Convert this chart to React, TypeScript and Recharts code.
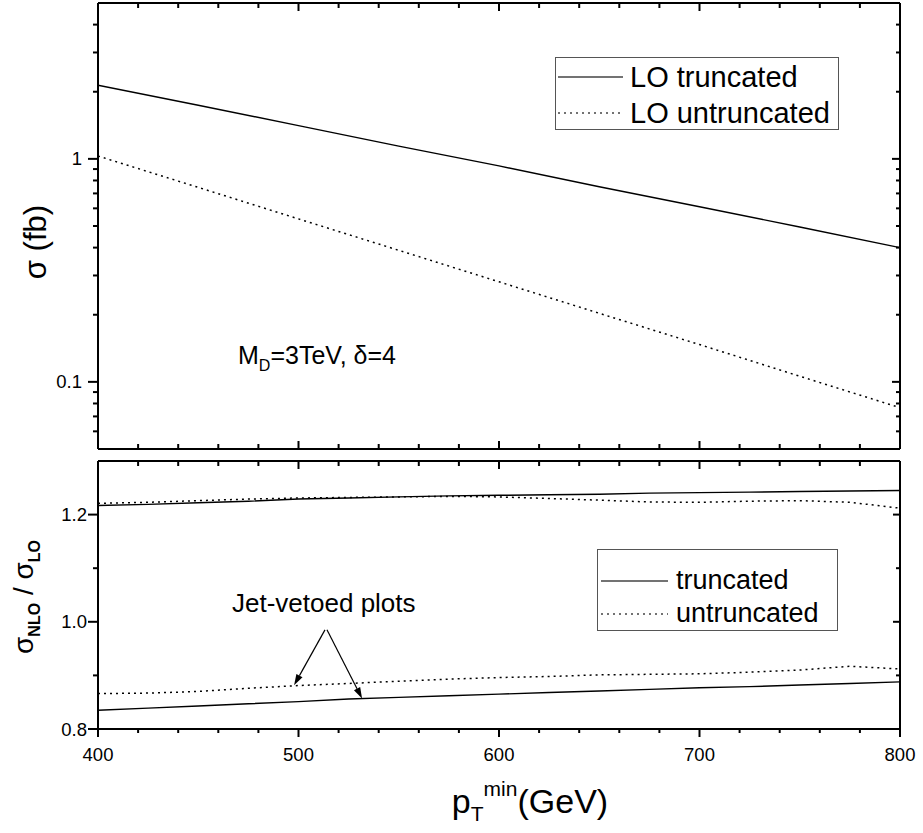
import { LineChart, Line, XAxis, YAxis, Legend, ReferenceLine, Customized } from "recharts";

const FONT = '"Liberation Sans", Arial, Helvetica, sans-serif';

// upper panel: LO cross sections (fb)
const ptTop = [400, 450, 500, 550, 600, 650, 700, 750, 800];
const loTrunc = [2.14, 1.74, 1.41, 1.14, 0.93, 0.75, 0.61, 0.495, 0.4];
const loUntrunc = [1.03, 0.745, 0.538, 0.389, 0.281, 0.203, 0.147, 0.106, 0.0766];

// lower panel: NLO / LO ratios
const ptBot = [400, 425, 450, 475, 500, 525, 550, 575, 600, 625, 650, 675, 700, 725, 750, 775, 800];
const kTrunc = [1.217, 1.219, 1.222, 1.225, 1.229, 1.231, 1.233, 1.235, 1.236, 1.237, 1.238, 1.24, 1.241, 1.242, 1.243, 1.244, 1.245];
const kUntrunc = [1.221, 1.223, 1.226, 1.229, 1.231, 1.232, 1.233, 1.234, 1.233, 1.23, 1.227, 1.2235, 1.223, 1.225, 1.226, 1.223, 1.212];
const kVetoTrunc = [0.835, 0.839, 0.843, 0.847, 0.851, 0.856, 0.859, 0.862, 0.865, 0.868, 0.871, 0.874, 0.877, 0.879, 0.882, 0.885, 0.888];
const kVetoUntrunc = [0.866, 0.867, 0.87, 0.876, 0.881, 0.885, 0.889, 0.893, 0.896, 0.898, 0.901, 0.902, 0.903, 0.906, 0.91, 0.917, 0.912];

// ticks
const xTicks = [400, 420, 440, 460, 480, 500, 520, 540, 560, 580, 600, 620, 640, 660, 680, 700, 720, 740, 760, 780, 800];
const xMajor = [400, 500, 600, 700, 800];
const sigmaTicks = [0.06, 0.07, 0.08, 0.09, 0.1, 0.2, 0.3, 0.4, 0.5, 0.6, 0.7, 0.8, 0.9, 1, 2, 3, 4];
const sigmaMajor = [0.1, 1];
const ratioTicks = [0.8, 0.9, 1.0, 1.1, 1.2];
const ratioMajor = [0.8, 1.0, 1.2];

const topData = ptTop.map((x, i) => ({ x, trunc: loTrunc[i], untrunc: loUntrunc[i] }));
const botData = ptBot.map((x, i) => ({
  x,
  trunc: kTrunc[i],
  untrunc: kUntrunc[i],
  vetoTrunc: kVetoTrunc[i],
  vetoUntrunc: kVetoUntrunc[i],
}));

const axisLine = { stroke: "#000", strokeWidth: 2 };
const DOTS = "2 4";

const isIn = (v: number, arr: number[]) => arr.some((a) => Math.abs(a - v) < 1e-9);

// side: where the axis sits, out: ticks point away from the plot
const makeTick =
  (side: "left" | "right" | "top" | "bottom", majors: number[], out: boolean, big: number, small: number, fmt?: (v: number) => string | null, pad = 4) =>
  (props: any) => {
    const { x, y, payload } = props;
    const v = payload.value;
    const len = isIn(v, majors) ? big : small;
    const s = out ? 1 : -1;
    const label = fmt ? fmt(v) : null;
    let x2 = x, y2 = y;
    if (side === "left") x2 = x - s * len;
    if (side === "right") x2 = x + s * len;
    if (side === "top") y2 = y - s * len;
    if (side === "bottom") y2 = y + s * len;
    return (
      <g>
        <line x1={x} y1={y} x2={x2} y2={y2} stroke="#000" strokeWidth={2} />
        {label && side === "left" && (
          <text x={x - big - pad} y={y + 6.5} textAnchor="end" fontSize={18.5} fontFamily={FONT} fill="#000">
            {label}
          </text>
        )}
        {label && side === "bottom" && (
          <text x={x} y={y + 32} textAnchor="middle" fontSize={18.5} fontFamily={FONT} fill="#000">
            {label}
          </text>
        )}
      </g>
    );
  };

const LegendBox = ({ items, font, lineW, rowH, padTop, padLeft, gap }: any) => (
  <div
    style={{
      boxSizing: "border-box",
      width: "100%",
      height: "100%",
      border: "1px solid #555",
      background: "#fff",
      paddingTop: padTop,
      paddingLeft: padLeft,
      fontFamily: FONT,
      fontSize: font,
      color: "#000",
    }}
  >
    {items.map((it: any) => (
      <div key={it.label} style={{ display: "flex", alignItems: "center", height: rowH, whiteSpace: "nowrap" }}>
        <svg width={lineW} height={4} style={{ flex: "none" }}>
          <line x1={0} y1={2} x2={lineW} y2={2} stroke="#444" strokeWidth={1.5} strokeDasharray={it.dash} />
        </svg>
        <span style={{ marginLeft: gap }}>{it.label}</span>
      </div>
    ))}
  </div>
);

const Arrow = (p: any) => {
  const { x1, y1, x2, y2 } = p;
  const a = Math.atan2(y2 - y1, x2 - x1);
  const L = 11, W = 3.5;
  const bx = x2 - L * Math.cos(a);
  const by = y2 - L * Math.sin(a);
  const nx = -Math.sin(a), ny = Math.cos(a);
  return (
    <g>
      <line x1={x1} y1={y1} x2={bx} y2={by} stroke="#000" strokeWidth={1.2} />
      <polygon points={`${x2},${y2} ${bx + W * nx},${by + W * ny} ${bx - W * nx},${by - W * ny}`} fill="#000" />
    </g>
  );
};

const TopText = () => (
  <g fontFamily={FONT} fill="#000">
    <text transform="translate(35,242) rotate(-90)" textAnchor="middle" dominantBaseline="central" fontSize={31}>
      σ (fb)
    </text>
    <text x={238} y={364} fontSize={25}>
      M<tspan dy={7} fontSize={16}>D</tspan>
      <tspan dy={-7}>=3TeV, δ=4</tspan>
    </text>
  </g>
);

const BottomText = () => (
  <g fontFamily={FONT} fill="#000">
    <text transform="translate(24,145) rotate(-90)" textAnchor="middle" fontSize={28} dy={9}>
      σ<tspan dy={7} fontSize={16} fontWeight="bold">NLO</tspan>
      <tspan dy={-7}> / σ</tspan>
      <tspan dy={7} fontSize={16} fontWeight="bold">LO</tspan>
    </text>
    <text x={232} y={160} fontSize={26}>
      Jet-vetoed plots
    </text>
    <text x={530} y={361} textAnchor="middle" fontSize={34}>
      p<tspan dy={8} fontSize={21}>T</tspan>
      <tspan dy={-25} fontSize={21}>min</tspan>
      <tspan dy={17}>(GeV)</tspan>
    </text>
  </g>
);

const tickOpts = { tickSize: 0, tickMargin: 0, tickLine: false, interval: 0 as const, axisLine, allowDataOverflow: true };

export default function App() {
  return (
    <div style={{ position: "absolute", left: 0, top: 0, width: 923, height: 833, background: "#fff" }}>
      <div style={{ position: "absolute", left: 0, top: 0 }}>
        <LineChart width={923} height={452} data={topData} margin={{ top: 2, right: 22, bottom: 2, left: 0 }}>
          <XAxis xAxisId="b" dataKey="x" type="number" domain={[400, 800]} ticks={xTicks} height={1}
            tick={makeTick("bottom", xMajor, false, 8, 5)} {...tickOpts} />
          <XAxis xAxisId="t" orientation="top" dataKey="x" type="number" domain={[400, 800]} ticks={xTicks} height={1}
            tick={makeTick("top", xMajor, false, 8, 5)} {...tickOpts} />
          <YAxis yAxisId="l" type="number" scale="log" domain={[0.05, 5]} ticks={sigmaTicks} width={98}
            tick={makeTick("left", sigmaMajor, true, 10, 5, (v) => (isIn(v, sigmaMajor) ? String(v) : null), 6)} {...tickOpts} />
          <YAxis yAxisId="r" orientation="right" type="number" scale="log" domain={[0.05, 5]} ticks={sigmaTicks} width={1}
            tick={makeTick("right", sigmaMajor, false, 8, 4)} {...tickOpts} />
          <Line xAxisId="b" yAxisId="l" dataKey="trunc" name="LO truncated" stroke="#000" strokeWidth={1.4} dot={false} isAnimationActive={false} />
          <Line xAxisId="b" yAxisId="l" dataKey="untrunc" name="LO untruncated" stroke="#000" strokeWidth={1.5} strokeDasharray={DOTS} dot={false} isAnimationActive={false} />
          <Legend
            layout="horizontal"
            verticalAlign="middle"
            align="center"
            wrapperStyle={{ position: "absolute", left: 555, top: 57, width: 284, height: 73 }}
            content={() => (
              <LegendBox
                items={[{ label: "LO truncated" }, { label: "LO untruncated", dash: DOTS }]}
                font={29} lineW={65} rowH={36} padTop={1} padLeft={2} gap={7}
              />
            )}
          />
          <Customized component={TopText} />
        </LineChart>
      </div>
      <div style={{ position: "absolute", left: 0, top: 452 }}>
        <LineChart width={923} height={381} data={botData} margin={{ top: 8, right: 22, bottom: 0, left: 0 }}>
          <XAxis xAxisId="b" dataKey="x" type="number" domain={[400, 800]} ticks={xTicks} height={104}
            tick={makeTick("bottom", xMajor, true, 8, 4, (v) => (isIn(v, xMajor) ? String(v) : null))} {...tickOpts} />
          <XAxis xAxisId="t" orientation="top" dataKey="x" type="number" domain={[400, 800]} ticks={xTicks} height={1}
            tick={makeTick("top", xMajor, false, 8, 5)} {...tickOpts} />
          <YAxis yAxisId="l" type="number" domain={[0.8, 1.3]} ticks={ratioTicks} width={98}
            tick={makeTick("left", ratioMajor, true, 10, 5, (v) => (isIn(v, ratioMajor) ? v.toFixed(1) : null), 1)} {...tickOpts} />
          <YAxis yAxisId="r" orientation="right" type="number" domain={[0.8, 1.3]} ticks={ratioTicks} width={1}
            tick={makeTick("right", ratioMajor, false, 7, 4)} {...tickOpts} />
          <Line xAxisId="b" yAxisId="l" dataKey="trunc" name="truncated" stroke="#000" strokeWidth={1.4} dot={false} isAnimationActive={false} />
          <Line xAxisId="b" yAxisId="l" dataKey="untrunc" name="untruncated" stroke="#000" strokeWidth={1.5} strokeDasharray={DOTS} dot={false} isAnimationActive={false} />
          <Line xAxisId="b" yAxisId="l" dataKey="vetoTrunc" name="vetoed truncated" stroke="#000" strokeWidth={1.4} dot={false} isAnimationActive={false} legendType="none" />
          <Line xAxisId="b" yAxisId="l" dataKey="vetoUntrunc" name="vetoed untruncated" stroke="#000" strokeWidth={1.5} strokeDasharray={DOTS} dot={false} isAnimationActive={false} legendType="none" />
          <ReferenceLine xAxisId="b" yAxisId="l" segment={[{ x: 513.2, y: 0.985 }, { x: 497.8, y: 0.8816 }]} shape={Arrow} />
          <ReferenceLine xAxisId="b" yAxisId="l" segment={[{ x: 514.2, y: 0.985 }, { x: 531.7, y: 0.857 }]} shape={Arrow} />
          <Legend
            layout="horizontal"
            verticalAlign="middle"
            align="center"
            wrapperStyle={{ position: "absolute", left: 597, top: 97, width: 241, height: 82 }}
            content={() => (
              <LegendBox
                items={[{ label: "truncated" }, { label: "untruncated", dash: DOTS }]}
                font={27} lineW={67} rowH={33} padTop={14} padLeft={3} gap={8}
              />
            )}
          />
          <Customized component={BottomText} />
        </LineChart>
      </div>
    </div>
  );
}
